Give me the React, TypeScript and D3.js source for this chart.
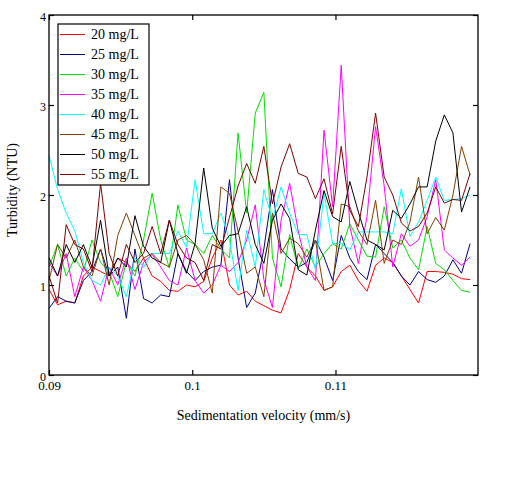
import * as d3 from "d3";
import { useEffect, useRef } from "react";

// x values shared by every trace (mm/s)
const velocity = [
  0.09, 0.0906, 0.0912, 0.0918, 0.0924, 0.093, 0.0936, 0.0942, 0.0948, 0.0954,
  0.096, 0.0966, 0.0972, 0.0978, 0.0984, 0.099, 0.0996, 0.1002, 0.1008, 0.1014,
  0.102, 0.1026, 0.1032, 0.1038, 0.1044, 0.105, 0.1056, 0.1062, 0.1068, 0.1074,
  0.108, 0.1086, 0.1092, 0.1098, 0.1104, 0.111, 0.1116, 0.1122, 0.1128, 0.1134,
  0.114, 0.1146, 0.1152, 0.1158, 0.1164, 0.117, 0.1176, 0.1182, 0.1188, 0.1194,
];

const seriesNames = ["20 mg/L", "25 mg/L", "30 mg/L", "35 mg/L", "40 mg/L", "45 mg/L", "50 mg/L", "55 mg/L"];
const seriesColors = ["#ff0000", "#000080", "#00e000", "#ff00ff", "#00ffff", "#804000", "#000000", "#800000"];

const turb20 = [
  0.95, 0.78, 0.82, 0.8, 1.1, 1.2, 1.15, 1.1, 1.3, 1.25,
  1.15, 1.3, 1.1, 1.04, 0.94, 0.93, 1.0, 0.98, 1.04, 1.3,
  1.5, 1.0, 0.89, 0.93, 0.82, 0.77, 0.72, 0.69, 0.95, 1.35,
  1.2, 1.1, 0.94, 0.98, 1.15, 1.22, 1.05, 0.93, 1.22, 1.3,
  1.25, 1.1, 0.95, 0.8, 1.15, 1.15, 1.14, 1.12, 1.07, 1.06,
];
const turb25 = [
  0.74, 0.87, 0.82, 0.8, 1.05, 1.15, 1.4, 1.1, 1.2, 0.63,
  1.4, 0.85, 0.8, 0.89, 0.87, 1.35, 1.15, 1.05, 1.15, 1.2,
  1.22, 2.17, 1.3, 0.75, 0.91, 1.4, 2.06, 1.4, 1.29, 1.2,
  1.25, 1.5, 1.31, 1.05, 1.55, 1.3, 1.15, 1.06, 1.45, 1.35,
  1.25, 1.1, 1.0, 1.15, 1.06, 1.03, 1.1, 1.28, 1.13, 1.46,
];
const turb30 = [
  1.2, 1.45, 1.1, 1.3, 1.15, 1.5, 1.25, 1.15, 0.87, 1.26,
  1.1, 1.5, 2.02, 1.5, 1.19, 1.89, 1.5, 1.45, 1.35, 1.55,
  1.4, 1.3, 2.69, 1.8, 2.91, 3.14, 1.3, 0.98, 1.56, 1.18,
  1.4, 1.2, 1.35, 1.46, 1.4, 1.68, 1.5, 1.32, 1.31, 1.87,
  1.41, 1.5, 1.3, 1.17, 1.65, 1.24, 1.17, 1.05, 0.94, 0.92,
];
const turb35 = [
  1.25, 1.1, 1.35, 0.87, 1.2, 1.05, 0.82, 1.2, 1.0, 1.3,
  0.95, 1.25, 1.34, 1.2, 1.05, 1.0, 1.41, 1.05, 0.91, 1.0,
  1.22, 1.15, 1.25, 1.5, 1.89, 1.06, 0.75, 1.72, 2.13, 1.6,
  1.2, 1.05, 2.72, 1.87, 3.44, 1.65, 1.24, 1.76, 2.76, 2.1,
  1.2, 1.57, 1.43, 1.5, 1.76, 2.17, 1.39, 1.3, 1.22, 1.31,
];
const turb40 = [
  2.44, 2.06, 1.8, 1.6, 1.25, 1.05, 1.0, 1.2, 1.1, 0.87,
  1.3, 1.2, 1.35, 1.35, 1.35, 1.6, 1.42, 2.17, 1.57, 1.57,
  1.8, 1.5, 0.94, 1.61, 1.2, 2.06, 1.72, 2.09, 1.8, 1.56,
  1.56, 1.17, 2.02, 1.46, 1.46, 1.39, 1.59, 1.59, 1.59, 1.59,
  1.57, 2.07, 1.54, 1.7, 1.94, 2.2, 1.94, 1.95, 1.96, 2.0,
];
const turb45 = [
  1.05, 1.45, 1.3, 1.5, 1.2, 1.1, 1.4, 1.0, 1.55, 1.8,
  1.55, 1.3, 1.35, 1.25, 1.2, 1.5, 1.55, 1.45, 1.28, 0.91,
  2.09, 2.02, 1.6, 1.13, 1.2, 0.87, 1.8, 1.35, 1.52, 1.46,
  1.31, 1.5, 0.94, 0.98, 1.9, 1.87, 1.6, 1.45, 1.94, 1.24,
  1.5, 1.45, 1.7, 2.2, 1.57, 1.75, 1.61, 2.0, 2.54, 2.22,
];
const turb50 = [
  1.3, 1.1, 1.45, 1.25, 1.45, 1.2, 1.72, 1.1, 1.3, 1.2,
  1.77, 1.43, 1.3, 1.25, 1.72, 1.35, 1.13, 1.46, 2.3, 1.63,
  1.43, 1.55, 1.57, 1.87, 1.45, 1.24, 1.72, 1.9, 1.74, 1.17,
  1.11, 1.61, 2.05, 1.76, 1.7, 2.15, 1.81, 1.5, 1.45, 1.39,
  1.83, 1.74, 1.9, 2.09, 2.09, 2.6, 2.89, 2.69, 1.81, 2.09,
];
const turb55 = [
  1.1, 0.8, 1.67, 1.45, 1.4, 1.15, 2.13, 1.35, 1.1, 1.45,
  1.25, 1.35, 1.65, 1.35, 1.72, 1.45, 1.3, 1.25, 1.05, 1.45,
  1.4, 1.75, 2.1, 2.35, 2.13, 2.54, 1.9, 2.31, 2.57, 2.24,
  2.2, 1.96, 2.18, 1.79, 2.54, 1.83, 1.65, 2.2, 2.91, 2.2,
  2.0, 1.69, 1.6, 1.65, 1.8, 2.09, 1.91, 1.95, 1.94, 2.24,
];

const allSeries = [turb20, turb25, turb30, turb35, turb40, turb45, turb50, turb55];
const yTicks = [0, 1, 2, 3, 4];
const xTicks = [0.09, 0.1, 0.11];

export default function App() {
  const ref = useRef<SVGSVGElement>(null);

  useEffect(() => {
    const svg = d3.select(ref.current);
    svg.selectAll("*").remove();

    const width = 510;
    const height = 488;
    const left = 49, right = 478, top = 15, bottom = 375;
    const font = "'Liberation Serif', 'Times New Roman', serif";

    svg.attr("width", width).attr("height", height);
    svg.append("rect").attr("width", width).attr("height", height).attr("fill", "white");

    const x = d3.scaleLinear().domain([0.09, 0.11995]).range([left, right]);
    const y = d3.scaleLinear().domain([0, 4]).range([bottom, top]);

    // traces
    const line = d3
      .line<number>()
      .x((_, i) => x(velocity[i]))
      .y((d) => y(d));

    allSeries.forEach((vals, k) => {
      svg
        .append("path")
        .datum(vals)
        .attr("d", line)
        .attr("fill", "none")
        .attr("stroke", seriesColors[k])
        .attr("stroke-width", 1);
    });

    // frame
    svg
      .append("rect")
      .attr("x", left)
      .attr("y", top)
      .attr("width", right - left)
      .attr("height", bottom - top)
      .attr("fill", "none")
      .attr("stroke", "black")
      .attr("stroke-width", 1.3);

    const styleAxis = (g, size) => {
      g.select(".domain").remove();
      g.selectAll("line").attr("stroke", "black").attr("stroke-width", 1.2);
      g.selectAll("text").attr("font-family", font).attr("font-size", size).attr("fill", "black");
    };

    svg
      .append("g")
      .attr("transform", `translate(${left},0)`)
      .call(d3.axisLeft(y).tickValues(yTicks).tickSize(-5).tickPadding(3).tickFormat(d3.format("d")))
      .call((g) => styleAxis(g, 12))
      .call((g) => g.selectAll("text").attr("dy", "0.45em"));

    svg
      .append("g")
      .attr("transform", `translate(${right},0)`)
      .call(d3.axisRight(y).tickValues(yTicks).tickSize(-5).tickFormat(() => ""))
      .call((g) => styleAxis(g, 12));

    svg
      .append("g")
      .attr("transform", `translate(0,${bottom})`)
      .call(d3.axisBottom(x).tickValues(xTicks).tickSize(-5).tickPadding(6).tickFormat(d3.format("")))
      .call((g) => styleAxis(g, 13));

    svg
      .append("g")
      .attr("transform", `translate(0,${top})`)
      .call(d3.axisTop(x).tickValues(xTicks).tickSize(-5).tickFormat(() => ""))
      .call((g) => styleAxis(g, 13));

    // axis titles
    svg
      .append("text")
      .attr("x", (left + right) / 2)
      .attr("y", 420)
      .attr("text-anchor", "middle")
      .attr("font-family", font)
      .attr("font-size", 14)
      .text("Sedimentation velocity (mm/s)");

    svg
      .append("text")
      .attr("transform", `translate(17,190) rotate(-90)`)
      .attr("text-anchor", "middle")
      .attr("font-family", font)
      .attr("font-size", 14)
      .text("Turbidity (NTU)");

    // legend
    const legend = svg.append("g").attr("transform", "translate(58,24)");
    legend
      .append("rect")
      .attr("width", 91)
      .attr("height", 161)
      .attr("fill", "white")
      .attr("stroke", "black")
      .attr("stroke-width", 1.2);

    const rows = legend
      .selectAll("g.row")
      .data(seriesNames)
      .enter()
      .append("g")
      .attr("transform", (_, i) => `translate(0,${10.5 + i * 20})`);

    rows
      .append("line")
      .attr("x1", 2)
      .attr("x2", 27)
      .attr("stroke", (_, i) => seriesColors[i])
      .attr("stroke-width", 1);

    rows
      .append("text")
      .attr("x", 33)
      .attr("dy", "0.35em")
      .attr("font-family", font)
      .attr("font-size", 14)
      .text((d) => d);
  }, []);

  return (
    <div style={{ position: "absolute", left: 0, top: 0 }}>
      <svg ref={ref} style={{ display: "block" }} />
    </div>
  );
}
